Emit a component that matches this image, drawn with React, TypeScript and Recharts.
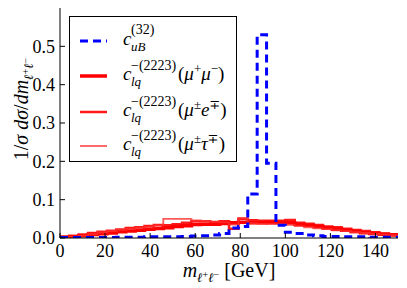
import React from 'react';
import { LineChart, Line, XAxis, YAxis, Legend } from 'recharts';

// bin edges (36 bins over 0-150 GeV)
const binEdges = [
  0, 4.17, 8.33, 12.5, 16.67, 20.83, 25, 29.17, 33.33, 37.5, 41.67, 45.83, 50, 54.17, 58.33, 62.5,
  66.67, 70.83, 75, 79.17, 83.33, 87.5, 91.67, 95.83, 100, 104.17, 108.33, 112.5, 116.67, 120.83,
  125, 129.17, 133.33, 137.5, 141.67, 145.83, 150,
];

const cuB = [
  0.001, 0.001, 0.001, 0.001, 0.001, 0.001, 0.002, 0.002, 0.002, 0.003, 0.003, 0.003, 0.003, 0.004,
  0.005, 0.006, 0.008, 0.012, 0.026, 0.03, 0.115, 0.53, 0.195, 0.033, 0.015, 0.012, 0.008, 0.006,
  0.004, 0.004, 0.003, 0.003, 0.003, 0.002, 0.002, 0.002,
];

const mumu = [
  0.002, 0.004, 0.006, 0.009, 0.011, 0.013, 0.016, 0.018, 0.02, 0.023, 0.025, 0.027, 0.03, 0.032,
  0.035, 0.036, 0.036, 0.038, 0.04, 0.041, 0.04, 0.04, 0.041, 0.041, 0.04, 0.036, 0.033, 0.03,
  0.026, 0.023, 0.02, 0.017, 0.014, 0.012, 0.01, 0.008,
];

const mue = [
  0.003, 0.005, 0.009, 0.013, 0.016, 0.019, 0.022, 0.026, 0.028, 0.031, 0.034, 0.033, 0.036, 0.04,
  0.044, 0.044, 0.042, 0.044, 0.024, 0.05, 0.046, 0.045, 0.045, 0.045, 0.047, 0.04, 0.037, 0.034,
  0.03, 0.028, 0.024, 0.021, 0.018, 0.015, 0.012, 0.01,
];

const mutau = [
  0.001, 0.003, 0.006, 0.01, 0.014, 0.018, 0.021, 0.024, 0.027, 0.029, 0.033, 0.05, 0.05, 0.05,
  0.046, 0.044, 0.042, 0.041, 0.035, 0.052, 0.038, 0.037, 0.036, 0.036, 0.034, 0.031, 0.028, 0.025,
  0.023, 0.02, 0.018, 0.015, 0.013, 0.011, 0.009, 0.007,
];

const xTicks = [0, 20, 40, 60, 80, 100, 120, 140];
const yTicks = [0, 0.1, 0.2, 0.3, 0.4, 0.5];

const FONT = "'Liberation Serif', 'DejaVu Serif', serif";

// step data: one point per bin edge, last edge repeats the last bin
const data = binEdges.map((x, i) => {
  const j = Math.min(i, cuB.length - 1);
  return { x, cuB: cuB[j], mumu: mumu[j], mue: mue[j], mutau: mutau[j] };
});

const tickStyle = { fill: '#000', fontSize: 18, fontFamily: FONT };

const RedEntry = ({ y, final }: { y: number; final: string }) => (
  <g fontFamily={FONT} fill="#000">
    <text x={53} y={y + 4} fontSize={19} fontStyle="italic">c</text>
    <text x={61} y={y + 10} fontSize={13} fontStyle="italic">lq</text>
    <text x={61} y={y - 6} fontSize={14}>−(2223)</text>
    <text x={108} y={y + 4} fontSize={19}>
      (<tspan fontStyle="italic">μ</tspan>
      <tspan dy={-7} fontSize={13}>{final === 'mumu' ? '+' : '±'}</tspan>
      <tspan dy={7} fontStyle="italic">{final === 'mumu' ? 'μ' : final === 'mue' ? 'e' : 'τ'}</tspan>
      <tspan dy={-7} fontSize={13}>{final === 'mumu' ? '−' : '∓'}</tspan>
      <tspan dy={7}>)</tspan>
    </text>
  </g>
);

const LegendBox = () => (
  <div style={{ width: 168, height: 146, border: '1px solid #000', background: '#fff', boxSizing: 'border-box' }}>
    <svg width={166} height={144} style={{ display: 'block' }}>
      <line x1={10} x2={37} y1={24} y2={24} stroke="#0000ff" strokeWidth={3} strokeDasharray="8 5" />
      <g fontFamily={FONT} fill="#000">
        <text x={53} y={28} fontSize={19} fontStyle="italic">c</text>
        <text x={61} y={34} fontSize={13} fontStyle="italic">uB</text>
        <text x={61} y={17} fontSize={14}>(32)</text>
      </g>
      <line x1={10} x2={37} y1={59} y2={59} stroke="#ff0000" strokeWidth={3.5} />
      <RedEntry y={59} final="mumu" />
      <line x1={10} x2={37} y1={95} y2={95} stroke="#ff0000" strokeWidth={2.5} strokeOpacity={0.9} />
      <RedEntry y={95} final="mue" />
      <line x1={10} x2={37} y1={129} y2={129} stroke="#ff3030" strokeWidth={1.8} strokeOpacity={0.8} />
      <RedEntry y={129} final="mutau" />
    </svg>
  </div>
);

const XLabel = () => (
  <text x={229} y={277} textAnchor="middle" fontFamily={FONT} fontSize={20} fill="#000">
    <tspan fontStyle="italic">m</tspan>
    <tspan dy={5} fontSize={13} fontStyle="italic">ℓ</tspan>
    <tspan dy={-4} fontSize={10}>+</tspan>
    <tspan dy={4} fontSize={13} fontStyle="italic">ℓ</tspan>
    <tspan dy={-4} fontSize={10}>−</tspan>
    <tspan dy={-1}>  [GeV]</tspan>
  </text>
);

const YLabel = () => (
  <text
    x={0}
    y={0}
    transform="translate(28,109) rotate(-90)"
    textAnchor="middle"
    fontFamily={FONT}
    fontSize={20}
    fill="#000"
  >
    1/<tspan fontStyle="italic">σ</tspan>  <tspan fontStyle="italic">dσ</tspan>/<tspan fontStyle="italic">dm</tspan>
    <tspan dy={5} fontSize={13} fontStyle="italic">ℓ</tspan>
    <tspan dy={-4} fontSize={10}>+</tspan>
    <tspan dy={4} fontSize={13} fontStyle="italic">ℓ</tspan>
    <tspan dy={-4} fontSize={10}>−</tspan>
  </text>
);

export default function App() {
  return (
    <div style={{ position: 'absolute', left: 0, top: 0, width: 407, height: 288, background: '#fff' }}>
      <LineChart width={407} height={288} data={data} margin={{ top: 8, right: 9, bottom: 0, left: 0 }}>
        <XAxis
          dataKey="x"
          type="number"
          domain={[0, 150]}
          ticks={xTicks}
          height={50}
          stroke="#000"
          tickSize={-5}
          tickMargin={11}
          tick={tickStyle}
          allowDataOverflow
          label={{ content: () => <XLabel /> }}
        />
        <XAxis
          xAxisId="top"
          orientation="top"
          dataKey="x"
          type="number"
          domain={[0, 150]}
          ticks={xTicks}
          height={0}
          stroke="#000"
          tickSize={-5}
          tick={false}
        />
        <YAxis
          type="number"
          domain={[0, 0.6]}
          ticks={yTicks}
          width={60}
          stroke="#000"
          tickSize={-5}
          tickMargin={10}
          tick={tickStyle}
          tickFormatter={(v: number) => v.toFixed(1)}
          allowDataOverflow
          label={{ content: () => <YLabel /> }}
        />
        <YAxis
          yAxisId="right"
          orientation="right"
          type="number"
          domain={[0, 0.6]}
          ticks={yTicks}
          width={0}
          stroke="#000"
          tickSize={-5}
          tick={false}
        />
        <Line type="stepAfter" dataKey="mumu" stroke="#ff0000" strokeWidth={3.5} dot={false} isAnimationActive={false} />
        <Line type="stepAfter" dataKey="mue" stroke="#ff0000" strokeWidth={2.5} strokeOpacity={0.9} dot={false} isAnimationActive={false} />
        <Line type="stepAfter" dataKey="mutau" stroke="#ff3030" strokeWidth={1.8} strokeOpacity={0.8} dot={false} isAnimationActive={false} />
        <Line
          type="stepAfter"
          dataKey="cuB"
          stroke="#0000ff"
          strokeWidth={3}
          strokeDasharray="8 5"
          dot={false}
          isAnimationActive={false}
        />
        <Legend
          layout="vertical"
          align="center"
          verticalAlign="middle"
          wrapperStyle={{ left: 69, top: 16, width: 168, height: 146 }}
          content={() => <LegendBox />}
        />
      </LineChart>
    </div>
  );
}
